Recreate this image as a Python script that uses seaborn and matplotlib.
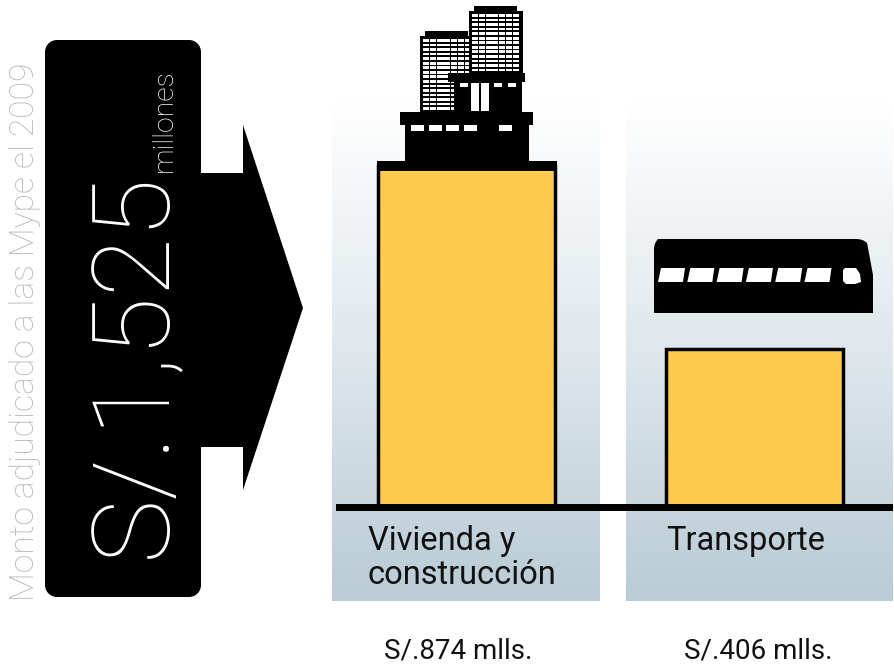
import numpy as np
import pandas as pd
import seaborn as sns
import matplotlib.pyplot as plt
from matplotlib.patches import Polygon, Rectangle
from matplotlib.path import Path
from matplotlib.patches import PathPatch

# datos
sectores = ['Vivienda y\nconstrucción', 'Transporte']
montos = [874, 406]
etiquetas = ['S/.874 mlls.', 'S/.406 mlls.']
total = 'S/.1,525'
titulo = 'Monto adjudicado a las Mype el 2009'

W, H = 895, 664
sns.set_theme(style='white')
plt.rcParams['font.family'] = ['Roboto', 'DejaVu Sans']

fig = plt.figure(figsize=(W / 100, H / 100), dpi=100, facecolor='white')

# capa de fondo en pixeles
bg = fig.add_axes([0, 0, 1, 1])
bg.set_xlim(0, W)
bg.set_ylim(H, 0)
bg.axis('off')

# paneles con degradado
grad = np.linspace(0, 1, 256).reshape(-1, 1)
cmap = sns.blend_palette(['#ffffff', '#dfe7ec', '#b9cbd5'], as_cmap=True)
for x0, x1 in [(332, 600), (626, 893)]:
    bg.imshow(grad, extent=(x0, x1, 601, 100), cmap=cmap, aspect='auto', zorder=1)
bg.set_xlim(0, W)
bg.set_ylim(H, 0)

# flecha negra
bg.add_patch(Rectangle((45, 52), 156, 533, fc='black', lw=0, zorder=2))
bg.add_patch(Rectangle((57, 40), 132, 557, fc='black', lw=0, zorder=2))
bg.add_patch(Polygon([(195, 173), (243, 173), (243, 125), (303, 308), (243, 490),
                      (243, 447), (195, 447)], fc='black', lw=0, zorder=2))
for cx, cy in [(57, 52), (189, 52), (57, 585), (189, 585)]:
    bg.add_patch(plt.Circle((cx, cy), 12, fc='black', lw=0, zorder=2))

bg.text(34, 601, titulo, rotation=90, rotation_mode='anchor', ha='left', va='baseline',
        fontsize=24.2, color='#b4b8ba', fontweight='light', zorder=3)
bg.text(165, 558, total, rotation=90, rotation_mode='anchor', ha='left', va='baseline',
        fontsize=78, color='white', fontweight='light', zorder=3)
bg.text(172, 172, 'millones', rotation=90, rotation_mode='anchor', ha='left', va='baseline',
        fontsize=20.5, color='white', fontweight='light', zorder=3)


def caja(x0, y0, x1, y1, color='black', eje=bg):
    eje.add_patch(Rectangle((x0, y0), x1 - x0, y1 - y0, fc=color, lw=0, zorder=5))


# edificios
caja(425, 31, 468, 36)
caja(420, 36, 470, 112)
for y in np.arange(39, 110, 4.55):
    for a, b in [(423, 429), (430, 436), (437, 450), (451, 457), (458, 464), (465, 469)]:
        caja(a, y, b, y + 2.8, 'white')
caja(474, 6, 517, 11)
caja(469, 11, 523, 73)
for y in np.arange(14, 71, 4.55):
    for a, b in [(472, 478), (479, 485), (486, 498), (499, 505), (506, 512), (513, 519)]:
        caja(a, y, b, y + 2.8, 'white')
caja(448, 73, 525, 82)
caja(454, 82, 522, 112)
for a, b in [(460, 468), (494, 502), (508, 516)]:
    caja(a, 83, b, 87, 'white')
for a, b in [(471, 479), (481, 489)]:
    caja(a, 83, b, 111, 'white')
caja(400, 112, 533, 125)
caja(405, 125, 529, 162)
for a, b in [(411, 424), (429, 442), (446, 459), (464, 477), (499, 512)]:
    caja(a, 125, b, 131, 'white')

# bus
verts = [(654, 313), (654, 250), (654, 243), (658, 239), (664, 239), (856, 239),
         (863, 239), (867, 243), (868, 248), (873, 275), (873, 313), (654, 313)]
codes = [Path.MOVETO, Path.LINETO, Path.CURVE3, Path.CURVE3, Path.LINETO, Path.LINETO,
         Path.CURVE3, Path.CURVE3, Path.LINETO, Path.LINETO, Path.LINETO, Path.CLOSEPOLY]
bg.add_patch(PathPatch(Path(verts, codes), fc='black', lw=0, zorder=5))
for i in range(6):
    d = 29.3 * i
    bg.add_patch(Polygon([(661 + d, 268), (685 + d, 268), (683 + d, 282), (658 + d, 282)],
                         fc='white', lw=0, zorder=6))
bg.add_patch(Polygon([(843, 270), (845, 268), (856, 268), (860, 274), (861, 282), (855, 284),
                      (846, 284), (843, 281)], fc='white', lw=0, zorder=6))

# barras con seaborn
y_base = 507
escala = 0.39
ax = fig.add_axes([332 / W, (H - y_base) / H, (893 - 332) / W, y_base / H])
ax.patch.set_alpha(0)
df = pd.DataFrame({'sector': sectores, 'monto': montos})
sns.barplot(data=df, x='sector', y='monto', color='#fecb4f', saturation=1, width=177 / 288,
            edgecolor='black', linewidth=2.5, ax=ax, zorder=4)
ax.set_xlim((332 - 467) / 288, (893 - 467) / 288)
ax.set_ylim(0, y_base / escala)
ax.set_xticks([])
ax.set_yticks([])
ax.set_xlabel('')
ax.set_ylabel('')
sns.despine(ax=ax, left=True, bottom=True)

# linea base y tope del edificio encima de las barras
bg2 = fig.add_axes([0, 0, 1, 1], facecolor='none')
bg2.set_xlim(0, W)
bg2.set_ylim(H, 0)
bg2.axis('off')
caja(377, 161, 557, 171, eje=bg2)
caja(336, 503.5, 893, 511, eje=bg2)

# textos
bg2.text(368, 550, 'Vivienda y', fontsize=23.5, color='#111111', va='baseline')
bg2.text(368, 584, 'construcción', fontsize=23.5, color='#111111', va='baseline')
bg2.text(666, 550, sectores[1], fontsize=23.5, color='#111111', va='baseline')
bg2.text(458, 659, etiquetas[0], fontsize=20, color='#111111', ha='center', va='baseline')
bg2.text(758, 659, etiquetas[1], fontsize=20, color='#111111', ha='center', va='baseline')

fig.savefig('out.png', dpi=100)
